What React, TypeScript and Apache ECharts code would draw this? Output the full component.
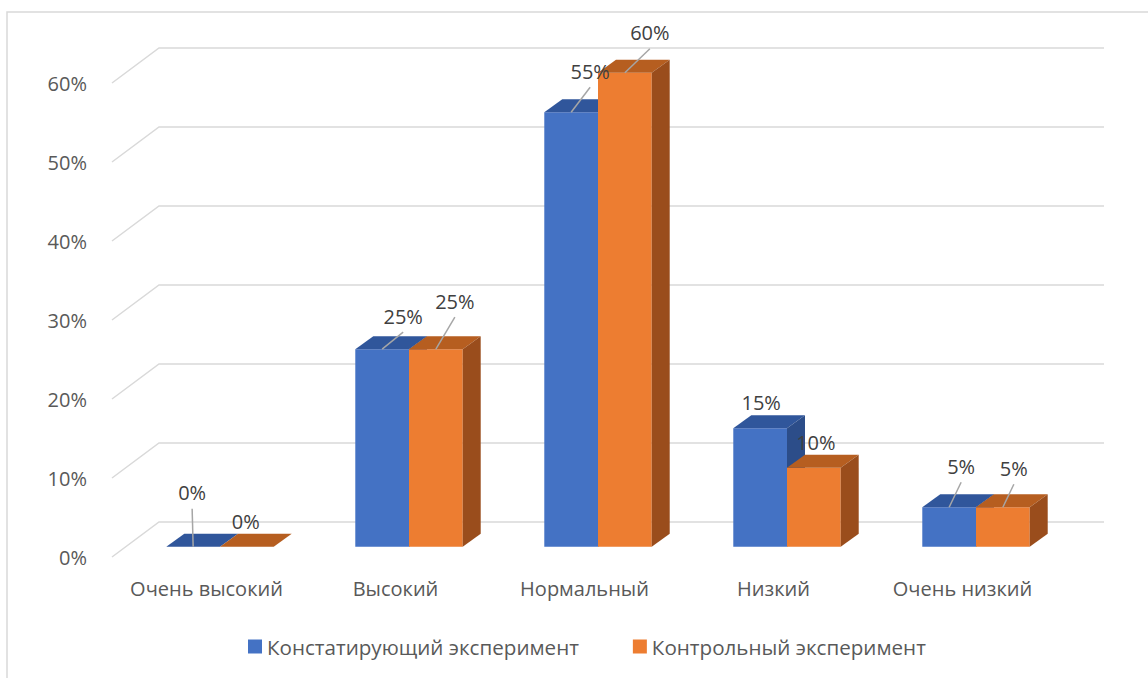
import React, { useEffect, useRef } from "react";
import * as echarts from "echarts";

const categories = ["Очень высокий", "Высокий", "Нормальный", "Низкий", "Очень низкий"];
const seriesNames = ["Констатирующий эксперимент", "Контрольный эксперимент"];
const constatValues = [0, 0.25, 0.55, 0.15, 0.05];
const controlValues = [0, 0.25, 0.6, 0.1, 0.05];
const yTicks = [0, 0.1, 0.2, 0.3, 0.4, 0.5, 0.6];

// styling
const FONT = "'Open Sans', 'Noto Sans', sans-serif";
const FS = 20;
const frontColors = ["#4472C4", "#ED7D31"];
const topColors = ["#30569B", "#B65E20"];
const sideColors = ["#2C4D89", "#9A4D1C"];
// label offsets (px) relative to the bar's front-top centre, per series / category
const labelShift = [
  [[-1, -54], [21, -33], [19, -41], [1, -26], [12, -41]],
  [[-1, -25], [19, -48], [25, -40], [2, -25], [11, -39]],
];
const WALL_DX = 47, WALL_DY = -35; // front edge -> back wall
const BAR_DX = 18, BAR_DY = -13; // bar depth
const BAR_SHIFT_X = 13.5, BAR_SHIFT_Y = -10.3; // bar front plane vs. front edge

const allValues = [constatValues, controlValues];

function barGeom(api: any, s: number, i: number, v: number) {
  const base = api.coord([i, 0]);
  const top = api.coord([i, v]);
  const band = api.size([1, 0])[0];
  const bw = band * 0.2842;
  const cx = base[0] + BAR_SHIFT_X;
  const x = s === 0 ? cx - bw : cx;
  const yBot = base[1] + BAR_SHIFT_Y;
  const yTop = top[1] + BAR_SHIFT_Y;
  return { x, bw, yBot, yTop };
}

export default function App() {
  const ref = useRef<HTMLDivElement>(null);
  useEffect(() => {
    if (!ref.current) return;
    const chart = echarts.init(ref.current, undefined, { renderer: "svg" });

    const barSeries = allValues.map((vals, s) => ({
      type: "custom",
      name: seriesNames[s],
      z: 3,
      itemStyle: { color: frontColors[s] },
      data: vals.map((v, i) => [i, v]),
      renderItem: (params: any, api: any) => {
        const i = api.value(0);
        const v = api.value(1);
        const { x, bw, yBot, yTop } = barGeom(api, s, i, v);
        return {
          type: "group",
          children: [
            {
              type: "rect",
              shape: { x, y: yTop, width: bw, height: yBot - yTop },
              style: { fill: frontColors[s] },
            },
            {
              type: "polygon",
              shape: {
                points: [
                  [x, yTop],
                  [x + bw, yTop],
                  [x + bw + BAR_DX, yTop + BAR_DY],
                  [x + BAR_DX, yTop + BAR_DY],
                ],
              },
              style: { fill: topColors[s] },
            },
            {
              type: "polygon",
              shape: {
                points: [
                  [x + bw, yTop],
                  [x + bw, yBot],
                  [x + bw + BAR_DX, yBot + BAR_DY],
                  [x + bw + BAR_DX, yTop + BAR_DY],
                ],
              },
              style: { fill: sideColors[s] },
            },
          ],
        };
      },
    }));

    const labelData: any[] = [];
    allValues.forEach((vals, s) => vals.forEach((v, i) => labelData.push([i, v, s])));

    const option: any = {
      animation: false,
      backgroundColor: "#ffffff",
      textStyle: { fontFamily: FONT },
      graphic: [
        {
          type: "rect",
          shape: { x: 7, y: 12, width: 1200, height: 720 },
          style: { fill: "none", stroke: "#D9D9D9", lineWidth: 1.5 },
          silent: true,
        },
      ],
      grid: { left: 112, width: 945, top: 83, height: 474, containLabel: false },
      xAxis: {
        type: "category",
        data: categories,
        axisLine: { show: false },
        axisTick: { show: false },
        axisLabel: { color: "#595959", fontSize: FS, fontFamily: FONT, margin: 21, interval: 0 },
      },
      yAxis: {
        type: "value",
        min: 0,
        max: 0.6,
        interval: 0.1,
        axisLine: { show: false },
        axisTick: { show: false },
        splitLine: { show: false },
        axisLabel: {
          color: "#595959",
          fontSize: FS,
          fontFamily: FONT,
          margin: 25,
          formatter: (v: number) => Math.round(v * 100) + "%",
        },
      },
      legend: {
        data: seriesNames,
        left: 243,
        top: 631,
        icon: "rect",
        itemWidth: 14,
        itemHeight: 14,
        itemGap: 54,
        textStyle: { color: "#595959", fontSize: 20.6, fontFamily: FONT },
      },
      series: [
        {
          type: "custom",
          name: "grid",
          z: 1,
          silent: true,
          data: yTicks.map((v) => [0, v]),
          renderItem: (params: any, api: any) => {
            const cs = params.coordSys;
            const y = api.coord([0, api.value(1)])[1];
            const x0 = cs.x;
            return {
              type: "polyline",
              shape: {
                points: [
                  [x0, y],
                  [x0 + WALL_DX, y + WALL_DY],
                  [x0 + cs.width + WALL_DX, y + WALL_DY],
                ],
              },
              style: { fill: "none", stroke: "#D9D9D9", lineWidth: 1.5 },
            };
          },
        },
        ...barSeries,
        {
          type: "custom",
          name: "labels",
          z: 10,
          silent: true,
          data: labelData,
          renderItem: (params: any, api: any) => {
            const i = api.value(0);
            const v = api.value(1);
            const s = api.value(2);
            const { x, bw, yTop } = barGeom(api, s, i, v);
            const ax = x + bw / 2;
            const [dx, dy] = labelShift[s][i];
            const lx = ax + dx;
            const ly = yTop + dy;
            const children: any[] = [];
            if (dy < -30) {
              children.push({
                type: "line",
                shape: { x1: lx, y1: ly + 16, x2: ax, y2: yTop },
                style: { stroke: "#A6A6A6", lineWidth: 1.5 },
              });
            }
            children.push({
              type: "text",
              x: lx,
              y: ly,
              style: {
                text: Math.round(v * 100) + "%",
                fill: "#404040",
                font: `${FS}px ${FONT}`,
                align: "center",
                verticalAlign: "middle",
              },
            });
            return { type: "group", children };
          },
        },
      ],
    };
    chart.setOption(option);
    return () => chart.dispose();
  }, []);
  return (
    <div
      ref={ref}
      style={{ position: "fixed", left: 0, top: 0, width: 1148, height: 678 }}
    />
  );
}
